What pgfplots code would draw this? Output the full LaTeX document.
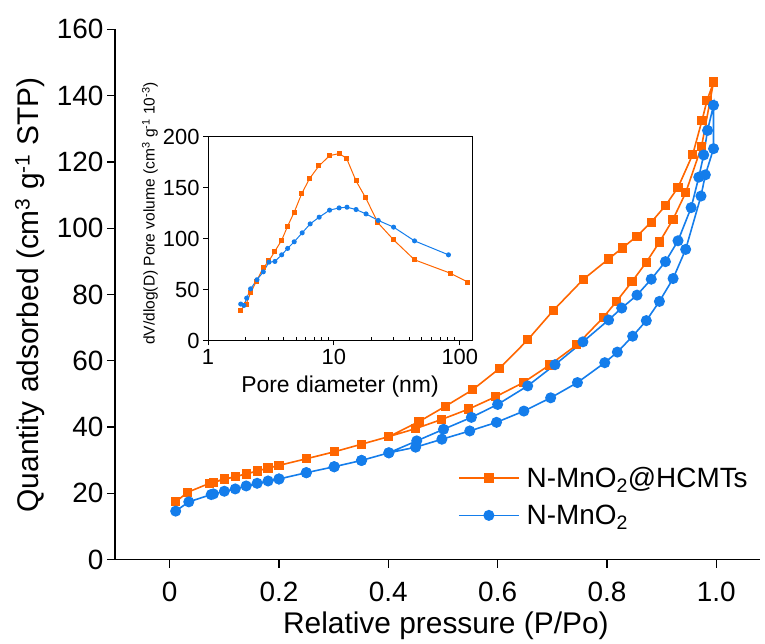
\documentclass[border=0pt]{standalone}
\usepackage{fontspec}
\setmainfont{Liberation Sans}
\usepackage{pgfplots}
\pgfplotsset{compat=1.18}
\definecolor{cor}{RGB}{255,102,0}
\definecolor{cbl}{RGB}{20,125,235}
\begin{document}
\begin{tikzpicture}
\useasboundingbox (-115bp,-84.5bp) rectangle (650bp,559.5bp);
\begin{axis}[
  at={(0,0)}, anchor=south west,
  scale only axis, width=645bp, height=530.1bp,
  xmin=-0.1, xmax=1.08, ymin=0, ymax=160,
  axis x line*=bottom, axis y line*=left,
  axis line style={line width=1.3bp, -},
  tick align=outside, major tick length=8bp,
  tick style={line width=1.3bp, black},
  xtick={0,0.2,0.4,0.6,0.8,1.0}, xticklabels={0,0.2,0.4,0.6,0.8,1.0},
  ytick={0,20,...,160},
  /pgf/number format/assume math mode=true,
  ticklabel style={font=\fontsize{28}{31}\selectfont},
  xticklabel style={yshift=-11bp},
  xlabel={Relative pressure (P/Po)},
  ylabel={Quantity adsorbed (cm\textsuperscript{3} g\textsuperscript{-1} STP)},
  label style={font=\fontsize{30}{34}\selectfont},
  xlabel style={at={(rel axis cs:0.513,-0.139)}, anchor=base},
  ylabel style={at={(rel axis cs:-0.132,0.499)}, anchor=center},
  legend style={draw=none, fill=none, at={(rel axis cs:0.527,0.182)}, anchor=north west,
    font=\fontsize{28}{31}\selectfont, row sep=12bp, column sep=5bp},
  legend cell align=left,
  legend image code/.code={\draw[mark repeat=2,mark phase=2] plot coordinates {(0bp,0bp)(30bp,0bp)(60bp,0bp)};},
]
\addplot[color=cor, line width=1.6bp, mark=square*, mark size=3.8bp, mark options={solid}] coordinates {
(0.011,17.4)(0.033,20.3)(0.073,23.0)(0.100,24.3)(0.120,25.0)(0.140,25.8)(0.160,26.7)(0.180,27.6)(0.200,28.4)(0.250,30.4)(0.301,32.5)(0.351,34.8)(0.401,37.1)(0.450,39.5)(0.498,42.3)(0.547,45.4)(0.596,49.1)(0.647,53.4)(0.695,58.7)(0.745,64.8)(0.793,73.0)(0.817,77.8)(0.846,83.9)(0.872,89.7)(0.896,95.8)(0.921,102.7)(0.944,110.7)(0.973,124.6)(0.995,144.1)(0.983,138.5)(0.974,132.6)(0.957,122.3)(0.930,112.3)(0.907,106.8)(0.881,101.8)(0.855,97.6)(0.828,94.0)(0.803,90.7)(0.757,84.6)(0.702,75.2)(0.655,66.3)(0.603,57.6)(0.554,51.2)(0.505,46.3)(0.456,41.6)(0.401,37.1)(0.351,34.8)(0.301,32.5)(0.250,30.4)(0.200,28.4)(0.080,23.3)
};
\addlegendentry{N-MnO\textsubscript{2}@HCMTs}
\addplot[color=cbl, line width=1.6bp, mark=*, mark size=4.7bp, mark options={solid}] coordinates {
(0.011,14.6)(0.035,17.4)(0.076,19.6)(0.100,20.6)(0.120,21.3)(0.140,22.2)(0.160,23.0)(0.180,23.7)(0.200,24.3)(0.250,26.2)(0.301,28.0)(0.351,29.9)(0.401,32.2)(0.450,33.9)(0.498,36.3)(0.549,38.8)(0.598,41.4)(0.648,44.8)(0.697,48.8)(0.746,53.4)(0.796,59.4)(0.819,62.6)(0.847,67.4)(0.872,72.1)(0.896,77.9)(0.921,84.8)(0.944,93.6)(0.972,109.7)(0.980,116.1)(0.995,124.0)(0.995,137.1)(0.984,129.5)(0.977,122.1)(0.968,115.4)(0.954,106.2)(0.930,96.2)(0.907,89.9)(0.881,84.6)(0.855,79.8)(0.827,75.9)(0.803,72.3)(0.756,65.7)(0.705,58.8)(0.655,52.4)(0.600,46.8)(0.552,42.9)(0.501,39.3)(0.452,35.8)(0.401,32.2)(0.351,29.9)(0.301,28.0)(0.250,26.2)(0.200,24.3)(0.080,19.8)
};
\addlegendentry{N-MnO\textsubscript{2}}
\end{axis}
\begin{axis}[
  at={(93bp,219bp)}, anchor=south west,
  scale only axis, width=264bp, height=203.5bp,
  xmode=log, xmin=1, xmax=125, ymin=0, ymax=200,
  axis line style={line width=1bp},
  xtick pos=bottom, ytick pos=left,
  tick align=outside, major tick length=5bp,
  tick style={line width=1bp, black},
  xtick={1,10,100}, xticklabels={1,10,100},
  xminorticks=false,
  extra x ticks={2,3,4,5,6,7,8,9,20,30,40,50,60,70,80,90},
  extra x tick labels={},
  extra x tick style={tick align=inside, major tick length=3bp},
  ytick={0,50,...,200},
  /pgf/number format/assume math mode=true,
  ticklabel style={font=\fontsize{22}{24}\selectfont},
  xlabel={Pore diameter (nm)},
  ylabel={dV/dlog(D) Pore volume (cm\textsuperscript{3} g\textsuperscript{-1} 10\textsuperscript{-3})},
  xlabel style={font=\fontsize{23}{26}\selectfont, at={(rel axis cs:0.5,-0.255)}, anchor=base},
  ylabel style={font=\fontsize{15.6}{18}\selectfont, at={(rel axis cs:-0.22,0.624)}, anchor=center},
]
\addplot[color=cor, line width=1bp, mark=square*, mark size=2bp, mark options={solid}] coordinates {
(1.82,29.9)(2.01,35.8)(2.19,47.6)(2.43,58.4)(2.75,71.5)(3.05,78.3)(3.40,87.8)(3.85,98.6)(4.29,112.4)(4.84,126.1)(5.54,144.1)(6.41,159.2)(7.60,171.5)(9.24,181.7)(11.0,183.7)(12.6,179.1)(15.0,156.8)(17.9,140.1)(22.4,115.6)(29.8,98.9)(43.7,79.3)(83.8,66.2)(115.7,57.4)
};
\addplot[color=cbl, line width=1bp, mark=*, mark size=2bp, mark options={solid}] coordinates {
(1.82,35.8)(1.93,34.5)(2.03,41.7)(2.18,50.8)(2.45,59.7)(2.75,67.5)(3.05,77.0)(3.40,77.7)(3.85,84.2)(4.29,90.5)(4.84,97.0)(5.60,105.8)(6.48,114.6)(7.64,121.2)(9.24,128.1)(11.0,130.3)(12.7,131.0)(15.0,128.7)(18.0,124.4)(22.5,118.0)(29.8,111.4)(43.7,97.9)(81.3,84.2)
};
\end{axis}
\end{tikzpicture}
\end{document}
